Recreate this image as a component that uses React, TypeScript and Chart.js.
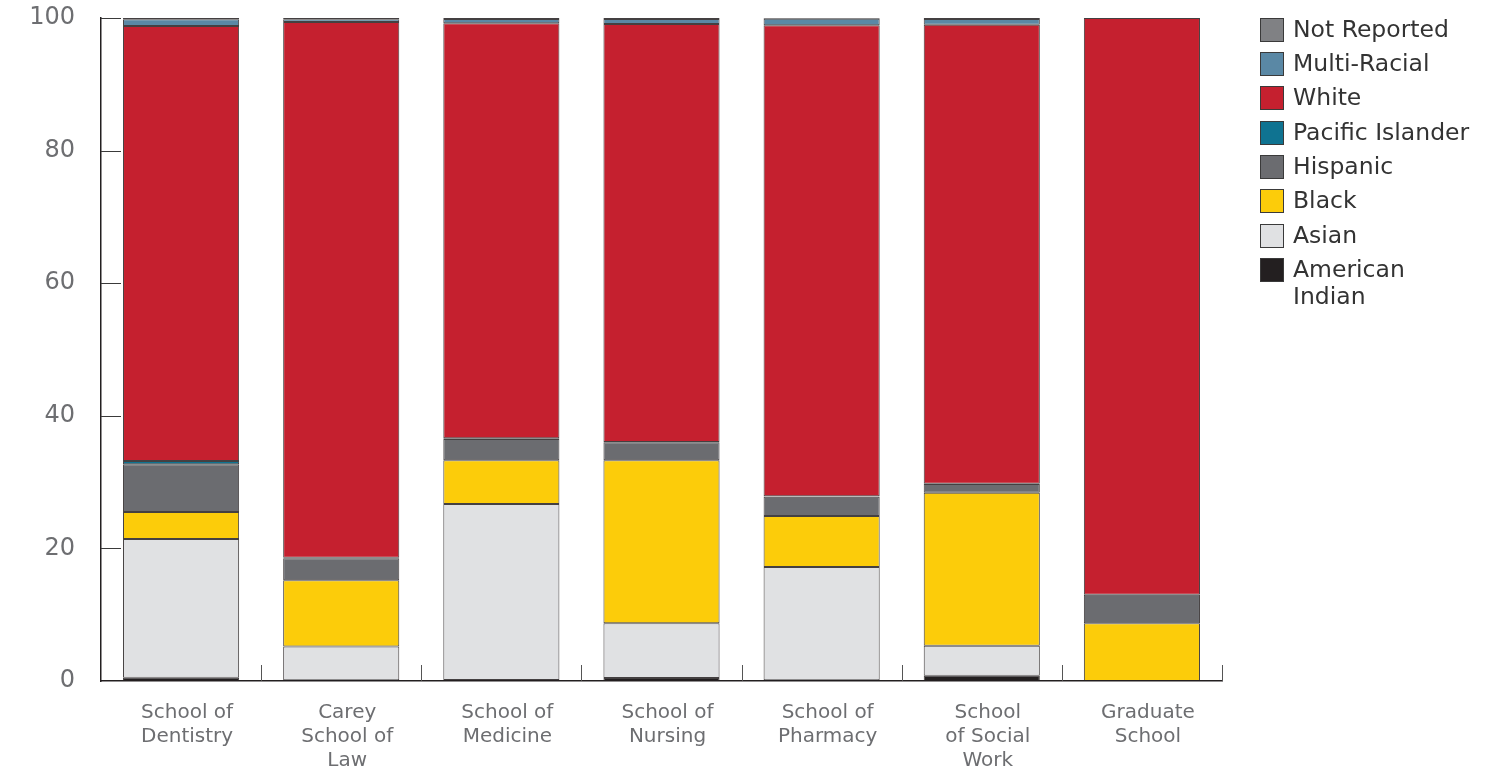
import React, { useEffect, useRef } from "react";
import { Chart, registerables } from "chart.js";

Chart.register(...registerables);

const categories: string[][] = [
  ["School of", "Dentistry"],
  ["Carey", "School of", "Law"],
  ["School of", "Medicine"],
  ["School of", "Nursing"],
  ["School of", "Pharmacy"],
  ["School", "of Social", "Work"],
  ["Graduate", "School"],
];

const americanIndian = [0.5, 0.1, 0.15, 0.45, 0.1, 0.8, 0];
const asian = [20.9, 5.1, 26.55, 8.25, 17.1, 4.5, 0];
const black = [4.1, 10.0, 6.6, 24.6, 7.7, 23.1, 8.7];
const hispanic = [7.2, 3.3, 3.2, 2.7, 2.9, 1.3, 4.3];
const pacificIslander = [0.5, 0.1, 0.1, 0.05, 0.05, 0.05, 0];
const white = [65.6, 80.8, 62.6, 63.05, 71.05, 69.25, 87.0];
const multiRacial = [1.0, 0.4, 0.65, 0.75, 1.0, 0.85, 0];
const notReported = [0.2, 0.2, 0.15, 0.15, 0.1, 0.15, 0];

const yTicks = [0, 20, 40, 60, 80, 100];

const series = [
  { name: "American Indian", legend: "American\nIndian", data: americanIndian, color: "#231f20" },
  { name: "Asian", legend: "Asian", data: asian, color: "#e0e1e3" },
  { name: "Black", legend: "Black", data: black, color: "#fccc0a" },
  { name: "Hispanic", legend: "Hispanic", data: hispanic, color: "#6b6c70" },
  { name: "Pacific Islander", legend: "Pacific Islander", data: pacificIslander, color: "#0f7391" },
  { name: "White", legend: "White", data: white, color: "#c5202f" },
  { name: "Multi-Racial", legend: "Multi-Racial", data: multiRacial, color: "#5a88a5" },
  { name: "Not Reported", legend: "Not Reported", data: notReported, color: "#808184" },
];

const FONT = "'DejaVu Sans', 'Open Sans', sans-serif";

const innerTicks = {
  id: "innerTicks",
  afterDraw(chart: any) {
    const ctx = chart.ctx;
    const area = chart.chartArea;
    const y = chart.scales.y;
    const x = chart.scales.x;
    ctx.save();
    ctx.strokeStyle = "#3a3a3a";
    ctx.lineWidth = 1;
    yTicks.forEach((v) => {
      if (v === 0) return;
      const py = Math.round(y.getPixelForValue(v)) + 0.5;
      ctx.beginPath();
      ctx.moveTo(area.left, py);
      ctx.lineTo(area.left + 20, py);
      ctx.stroke();
    });
    ctx.strokeStyle = "#555";
    const n = categories.length;
    for (let i = 0; i < n; i++) {
      let px: number;
      if (i < n - 1) px = (x.getPixelForValue(i) + x.getPixelForValue(i + 1)) / 2;
      else px = area.right;
      px = Math.round(px) + 0.5;
      ctx.beginPath();
      ctx.moveTo(px, area.bottom);
      ctx.lineTo(px, area.bottom - 16);
      ctx.stroke();
    }
    ctx.restore();
  },
};

export default function App() {
  const canvasRef = useRef<HTMLCanvasElement | null>(null);

  useEffect(() => {
    document.body.style.margin = "0";
    const canvas = canvasRef.current;
    if (!canvas) return;
    const chart = new Chart(canvas, {
      type: "bar",
      data: {
        labels: categories,
        datasets: series.map((s) => ({
          label: s.name,
          data: s.data,
          backgroundColor: s.color,
          borderColor: "rgba(35,31,32,0.85)",
          borderWidth: 1,
          borderSkipped: false,
          categoryPercentage: 1,
          barPercentage: 0.725,
        })),
      },
      plugins: [innerTicks],
      options: {
        responsive: false,
        animation: false,
        devicePixelRatio: 1,
        layout: { padding: { top: 18, right: 279, left: 0, bottom: 0 } },
        plugins: {
          legend: { display: false },
          tooltip: { enabled: false },
        },
        scales: {
          x: {
            stacked: true,
            grid: { display: false, drawTicks: false },
            border: { display: true, color: "#231f20", width: 1.5 },
            ticks: {
              color: "#6d6e71",
              font: { family: FONT, size: 20, lineHeight: 1.2 },
              padding: 20,
              labelOffset: 6,
              maxRotation: 0,
              autoSkip: false,
            },
            afterFit(scale: any) {
              scale.height = 85;
              scale.paddingLeft = 0;
              scale.paddingRight = 0;
            },
          },
          y: {
            stacked: true,
            min: 0,
            max: 100,
            grid: { display: false, drawTicks: false },
            border: { display: true, color: "#231f20", width: 1.5 },
            afterBuildTicks(scale: any) {
              scale.ticks = yTicks.map((v) => ({ value: v }));
            },
            ticks: {
              color: "#6d6e71",
              font: { family: FONT, size: 24 },
              padding: 26,
            },
            afterFit(scale: any) {
              scale.width = 101;
              scale.paddingTop = 0;
              scale.paddingBottom = 0;
            },
          },
        },
      },
    });
    return () => chart.destroy();
  }, []);

  const legendItems = [...series].reverse();

  return (
    <div style={{ position: "relative", width: 1501, height: 766, overflow: "hidden", background: "#fff" }}>
      <canvas ref={canvasRef} width={1501} height={766} style={{ position: "absolute", left: 0, top: 0 }} />
      <div style={{ position: "absolute", left: 1260, top: 16.5, fontFamily: FONT, fontSize: 23.5, color: "#333" }}>
        {legendItems.map((s) => (
          <div key={s.name} style={{ display: "flex", alignItems: "flex-start", marginBottom: 8.4 }}>
            <div
              style={{
                width: 22,
                height: 22,
                background: s.color,
                border: "1px solid #3a3a3a",
                marginRight: 9,
                marginTop: 1,
                flex: "none",
              }}
            />
            <div style={{ whiteSpace: "pre-line", lineHeight: "27px", marginTop: -1 }}>{s.legend}</div>
          </div>
        ))}
      </div>
    </div>
  );
}
